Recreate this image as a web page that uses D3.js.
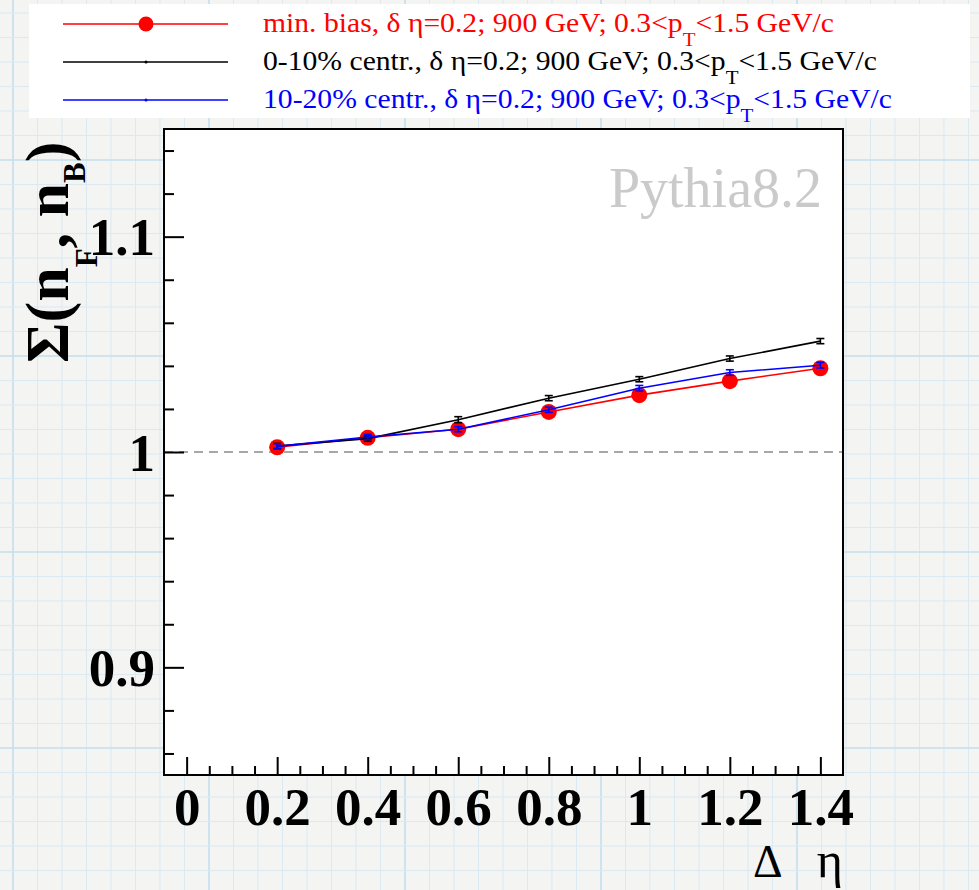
<!DOCTYPE html>
<html>
<head>
<meta charset="utf-8">
<script src="https://cdn.jsdelivr.net/npm/d3@7"></script>
<style>
  html, body { margin: 0; padding: 0; background: #f4f4f4; }
  svg { display: block; }
</style>
</head>
<body>
<svg id="chart" width="979" height="890"></svg>
<script>
// Forward-backward correlation strength vs. eta gap (Pythia8.2, 900 GeV)
const deltaEta = [0.2, 0.4, 0.6, 0.8, 1.0, 1.2, 1.4];

const minBias   = [1.0022, 1.0066, 1.0106, 1.0186, 1.0264, 1.0329, 1.0389];
const minBiasErr = [0.0010, 0.0010, 0.0010, 0.0010, 0.0010, 0.0010, 0.0010];

const centr0_10   = [1.0028, 1.0062, 1.0150, 1.0250, 1.0338, 1.0434, 1.0515];
const centr0_10Err = [0.0012, 0.0012, 0.0014, 0.0012, 0.0012, 0.0012, 0.0012];

const centr10_20   = [1.0026, 1.0070, 1.0106, 1.0196, 1.0296, 1.0369, 1.0403];
const centr10_20Err = [0.0012, 0.0012, 0.0012, 0.0012, 0.0013, 0.0013, 0.0013];

const xMajorTicks = [0, 0.2, 0.4, 0.6, 0.8, 1.0, 1.2, 1.4];
const xTickLabels = ["0", "0.2", "0.4", "0.6", "0.8", "1", "1.2", "1.4"];
const yMajorTicks = [0.9, 1.0, 1.1];
const yTickLabels = ["0.9", "1", "1.1"];

const seriesNames = [
  "min. bias, δ η=0.2; 900 GeV; 0.3<p",
  "0-10% centr., δ η=0.2; 900 GeV; 0.3<p",
  "10-20% centr., δ η=0.2; 900 GeV; 0.3<p"
];
const seriesTail = "<1.5 GeV/c";
const seriesColors = ["#ff0000", "#000000", "#0000ff"];

const svg = d3.select("#chart");
const W = 979, H = 890;
const serif = "'Liberation Serif', 'Times New Roman', serif";

// ---- graph-paper backdrop ----
const bg = svg.append("g");
bg.append("rect").attr("width", W).attr("height", H).attr("fill", "#f4f4f3");
const minorStep = 24.5;
d3.range(-8, 48).forEach(i => {
  const x = 13 + i * minorStep;
  const heavy = (i % 8 === 0);
  bg.append("line").attr("x1", x).attr("x2", x).attr("y1", 0).attr("y2", H)
    .attr("stroke", heavy ? "#c4dfee" : "#dbe9f2").attr("stroke-width", heavy ? 1.6 : 1);
});
d3.range(-8, 48).forEach(i => {
  const y = 160 + i * minorStep;
  const heavy = (i % 8 === 0);
  bg.append("line").attr("x1", 0).attr("x2", W).attr("y1", y).attr("y2", y)
    .attr("stroke", heavy ? "#c4dfee" : "#dbe9f2").attr("stroke-width", heavy ? 1.6 : 1);
});

// ---- plot frame ----
const frame = { left: 164, top: 129, right: 843, bottom: 775 };
const x = d3.scaleLinear().domain([-0.05, 1.45]).range([frame.left, frame.right]);
const y = d3.scaleLinear().domain([0.85, 1.15]).range([frame.bottom, frame.top]);

svg.append("rect")
  .attr("x", frame.left).attr("y", frame.top)
  .attr("width", frame.right - frame.left).attr("height", frame.bottom - frame.top)
  .attr("fill", "#ffffff");

// reference line at unity
svg.append("line")
  .attr("x1", frame.left).attr("x2", frame.right)
  .attr("y1", y(1)).attr("y2", y(1))
  .attr("stroke", "#8a8a8a").attr("stroke-width", 1.6)
  .attr("stroke-dasharray", "9,6");

// ---- axes: ticks point inward ----
const xMinor = d3.range(0, 1.4001, 0.05).filter(v => !xMajorTicks.some(m => Math.abs(m - v) < 1e-6));
const yMinor = d3.range(0.86, 1.1401, 0.02).filter(v => !yMajorTicks.some(m => Math.abs(m - v) < 1e-6));

function styleAxis(g) {
  g.select(".domain").remove();
  g.selectAll(".tick line").attr("stroke", "#000").attr("stroke-width", 2);
}

svg.append("g").attr("transform", `translate(0,${frame.bottom})`)
  .call(d3.axisBottom(x).tickValues(xMinor).tickSizeInner(-9).tickSizeOuter(0).tickFormat(""))
  .call(styleAxis);
const xAx = svg.append("g").attr("transform", `translate(0,${frame.bottom})`)
  .call(d3.axisBottom(x).tickValues(xMajorTicks).tickSizeInner(-18).tickSizeOuter(0)
    .tickFormat((d, i) => xTickLabels[i]))
  .call(styleAxis);
xAx.selectAll(".tick text")
  .attr("y", 0).attr("dy", 0).attr("transform", "translate(0,50)")
  .attr("font-family", serif).attr("font-weight", "bold").attr("font-size", 53)
  .attr("fill", "#000").attr("text-anchor", "middle");

svg.append("g").attr("transform", `translate(${frame.left},0)`)
  .call(d3.axisLeft(y).tickValues(yMinor).tickSizeInner(-10).tickSizeOuter(0).tickFormat(""))
  .call(styleAxis);
const yAx = svg.append("g").attr("transform", `translate(${frame.left},0)`)
  .call(d3.axisLeft(y).tickValues(yMajorTicks).tickSizeInner(-20).tickSizeOuter(0)
    .tickFormat((d, i) => yTickLabels[i]))
  .call(styleAxis);
yAx.selectAll(".tick text")
  .attr("x", -9).attr("dy", 0).attr("transform", "translate(0,18)")
  .attr("font-family", serif).attr("font-weight", "bold").attr("font-size", 53)
  .attr("fill", "#000").attr("text-anchor", "end");

svg.append("rect")
  .attr("x", frame.left).attr("y", frame.top)
  .attr("width", frame.right - frame.left).attr("height", frame.bottom - frame.top)
  .attr("fill", "none").attr("stroke", "#000").attr("stroke-width", 2);

// ---- data series ----
const series = [
  { vals: minBias, errs: minBiasErr, color: seriesColors[0], marker: 8 },
  { vals: centr0_10, errs: centr0_10Err, color: seriesColors[1], marker: 1.2 },
  { vals: centr10_20, errs: centr10_20Err, color: seriesColors[2], marker: 1.2 }
];
const line = d3.line().x(d => x(d[0])).y(d => y(d[1]));

series.forEach(s => {
  const pts = deltaEta.map((e, i) => [e, s.vals[i], s.errs[i]]);
  const g = svg.append("g");
  g.append("path").datum(pts).attr("d", line)
    .attr("fill", "none").attr("stroke", s.color).attr("stroke-width", 1.6);
  if (s.marker > 2) {
    g.selectAll("circle").data(pts).join("circle")
      .attr("cx", d => x(d[0])).attr("cy", d => y(d[1])).attr("r", s.marker)
      .attr("fill", s.color);
  }
  const eb = g.selectAll("g.err").data(pts).join("g").attr("class", "err");
  eb.append("line")
    .attr("x1", d => x(d[0])).attr("x2", d => x(d[0]))
    .attr("y1", d => y(d[1] - d[2])).attr("y2", d => y(d[1] + d[2]))
    .attr("stroke", s.color).attr("stroke-width", 1.6);
  [-1, 1].forEach(sign => {
    eb.append("line")
      .attr("x1", d => x(d[0]) - 4).attr("x2", d => x(d[0]) + 4)
      .attr("y1", d => y(d[1] + sign * d[2])).attr("y2", d => y(d[1] + sign * d[2]))
      .attr("stroke", s.color).attr("stroke-width", 1.6);
  });
});

// ---- generator label ----
svg.append("text")
  .attr("x", 822).attr("y", 207).attr("text-anchor", "end")
  .attr("font-family", serif).attr("font-size", 56).attr("fill", "#cacaca")
  .text("Pythia8.2");

// ---- axis titles ----
const yTitle = svg.append("text")
  .attr("transform", "translate(68,363) rotate(-90)")
  .attr("font-family", serif).attr("font-weight", "bold").attr("font-size", 62)
  .attr("fill", "#000");
yTitle.append("tspan").text("Σ(n");
yTitle.append("tspan").attr("dy", 29).attr("font-size", 31).text("F");
yTitle.append("tspan").attr("dy", -29).text(", n");
yTitle.append("tspan").attr("dy", 17).attr("font-size", 31).text("B");
yTitle.append("tspan").attr("dy", -17).text(")");

svg.append("text")
  .attr("x", 753).attr("y", 877)
  .attr("font-family", serif).attr("font-size", 46).attr("fill", "#000")
  .text("Δ");
svg.append("text")
  .attr("x", 843).attr("y", 877).attr("text-anchor", "end")
  .attr("font-family", serif).attr("font-size", 50).attr("fill", "#000")
  .text("η");

// ---- legend ----
const legend = svg.append("g");
legend.append("rect").attr("x", 29).attr("y", 4).attr("width", 941).attr("height", 114).attr("fill", "#fff");
const rowY = [24, 62, 100];
const textEnds = [834, 877, 892];
series.forEach((s, i) => {
  const yy = rowY[i];
  legend.append("line").attr("x1", 63).attr("x2", 228).attr("y1", yy).attr("y2", yy)
    .attr("stroke", s.color).attr("stroke-width", 1.6);
  legend.append("circle").attr("cx", 146).attr("cy", yy).attr("r", s.marker > 2 ? 7.5 : 1.5)
    .attr("fill", s.color);
  const t = legend.append("text").attr("x", 263).attr("y", yy + 8)
    .attr("font-family", serif).attr("font-size", 27).attr("fill", s.color);
  t.append("tspan").text(seriesNames[i]);
  t.append("tspan").attr("dy", 14).attr("font-size", 19).text("T");
  t.append("tspan").attr("dy", -14).text(seriesTail);
  t.attr("textLength", textEnds[i] - 263).attr("lengthAdjust", "spacingAndGlyphs");
});
</script>
</body>
</html>
